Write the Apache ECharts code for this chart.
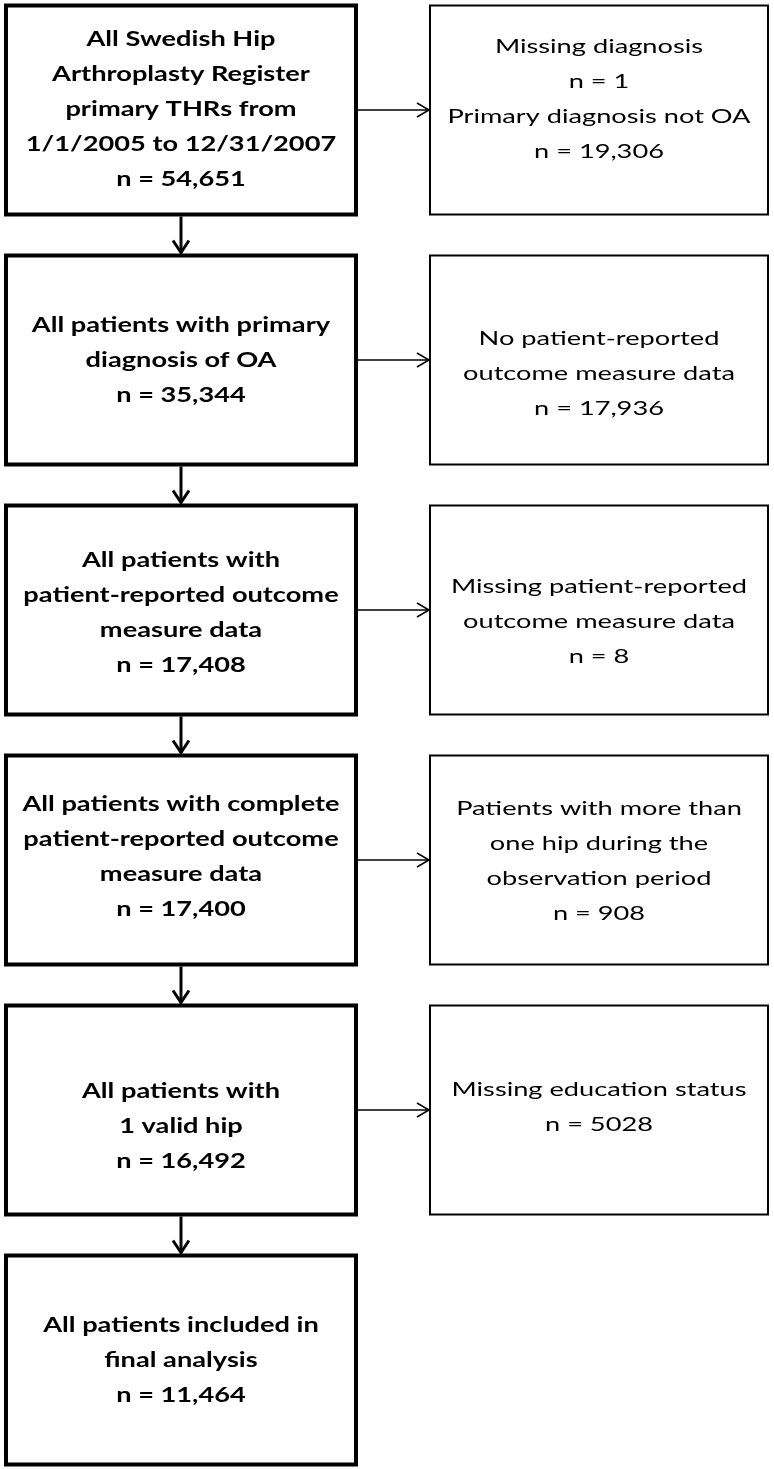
<!DOCTYPE html>
<html>
<head>
<meta charset="utf-8">
<script src="https://cdn.jsdelivr.net/npm/echarts@6/dist/echarts.min.js"></script>
<style>
  html, body { margin: 0; padding: 0; background: #fff; }
  #chart { width: 774px; height: 1469px; }
</style>
</head>
<body>
<div id="chart"></div>
<script>
// column index 0 = cohort boxes, 1 = excluded boxes
const COHORT = 0, EXCLUDED = 1

const cohortSteps = [
  'All Swedish Hip\nArthroplasty Register\nprimary THRs from\n1/1/2005 to 12/31/2007',
  'All patients with primary\ndiagnosis of OA',
  'All patients with\npatient-reported outcome\nmeasure data',
  'All patients with complete\npatient-reported outcome\nmeasure data',
  'All patients with\n1 valid hip',
  'All patients included in\nfinal analysis'
]
const cohortCounts = ['54,651', '35,344', '17,408', '17,400', '16,492', '11,464']

const exclusionReasons = [
  'Missing diagnosis\nn = 1\nPrimary diagnosis not OA',
  'No patient-reported\noutcome measure data',
  'Missing patient-reported\noutcome measure data',
  'Patients with more than\none hip during the\nobservation period',
  'Missing education status'
]
const exclusionCounts = ['19,306', '17,936', '8', '908', '5028']

// layout / style
const MAIN_W = 350, MAIN_H = 209
const SIDE_W = 338, SIDE_H = 209
const mainShift = [0, 1, 3, -3, 17, 1]
const sideShift = [-11, 14, 12, 1, -3]
const FONT_FAMILY = 'Lato, "Open Sans", sans-serif'
const TEXT_STRETCH = 1.36

const chart = echarts.init(document.getElementById('chart'))

const boxRender = (kind) => (params, api) => {
  const i = params.dataIndex
  const c = api.coord([api.value(0), api.value(1)])
  const main = kind === 'main'
  const w = main ? MAIN_W : SIDE_W
  const h = main ? MAIN_H : SIDE_H
  const text = main
    ? cohortSteps[i] + '\nn = ' + cohortCounts[i]
    : exclusionReasons[i] + '\nn = ' + exclusionCounts[i]
  const shift = main ? mainShift[i] : sideShift[i]
  return {
    type: 'group',
    children: [
      {
        type: 'rect',
        shape: { x: c[0] - w / 2, y: c[1] - h / 2, width: w, height: h },
        style: { fill: '#fff', stroke: '#000', lineWidth: main ? 4 : 2 }
      },
      {
        type: 'text',
        x: c[0],
        y: c[1] + shift,
        scaleX: TEXT_STRETCH,
        style: {
          text: text,
          align: 'center',
          verticalAlign: 'middle',
          fill: '#000',
          fontFamily: FONT_FAMILY,
          fontWeight: main ? 'bold' : 'normal',
          fontSize: 20,
          lineHeight: 35
        }
      }
    ]
  }
}

const downArrow = (params, api) => {
  const a = api.coord([api.value(0), api.value(1)])
  const b = api.coord([api.value(0), api.value(1) + 1])
  const y0 = a[1] + MAIN_H / 2 + 2
  const y1 = b[1] - MAIN_H / 2 - 3
  const style = { stroke: '#000', lineWidth: 3, fill: null }
  return {
    type: 'group',
    children: [
      { type: 'line', shape: { x1: a[0], y1: y0, x2: a[0], y2: y1 }, style },
      { type: 'polyline', shape: { points: [[a[0] - 8, y1 - 12], [a[0], y1], [a[0] + 8, y1 - 12]] }, style }
    ]
  }
}

const sideArrow = (params, api) => {
  const a = api.coord([COHORT, api.value(1)])
  const b = api.coord([EXCLUDED, api.value(1)])
  const x0 = a[0] + MAIN_W / 2 + 2
  const x1 = b[0] - SIDE_W / 2 - 1
  const style = { stroke: '#000', lineWidth: 1.5, fill: null }
  return {
    type: 'group',
    children: [
      { type: 'line', shape: { x1: x0, y1: a[1], x2: x1, y2: a[1] }, style },
      { type: 'polyline', shape: { points: [[x1 - 12, a[1] - 7], [x1, a[1]], [x1 - 12, a[1] + 7]] }, style }
    ]
  }
}

const option = {
  animation: false,
  grid: { left: 0, right: 0, top: 0, bottom: 0 },
  xAxis: { type: 'value', min: -0.433, max: 1.4187, show: false },
  yAxis: { type: 'value', inverse: true, min: -0.44, max: 5.436, show: false },
  series: [
    {
      type: 'custom',
      renderItem: downArrow,
      data: cohortSteps.slice(0, -1).map((s, i) => [COHORT, i])
    },
    {
      type: 'custom',
      renderItem: sideArrow,
      data: exclusionReasons.map((s, i) => [COHORT, i])
    },
    {
      type: 'custom',
      renderItem: boxRender('main'),
      data: cohortSteps.map((s, i) => [COHORT, i])
    },
    {
      type: 'custom',
      renderItem: boxRender('side'),
      data: exclusionReasons.map((s, i) => [EXCLUDED, i])
    }
  ]
}

chart.setOption(option)
</script>
</body>
</html>
